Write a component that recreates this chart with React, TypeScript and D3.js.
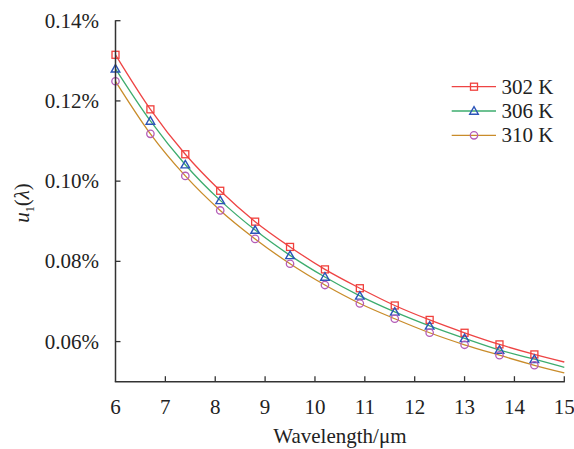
import React from "react";
import * as d3 from "d3";

const wavelengths = [6, 6.7, 7.4, 8.1, 8.8, 9.5, 10.2, 10.9, 11.6, 12.3, 13.0, 13.7, 14.4];
const lineEndX = 15;
const seriesNames = ["302 K", "306 K", "310 K"];
const values302 = [0.1315, 0.1179, 0.1067, 0.0976, 0.0899, 0.0836, 0.0780, 0.0733, 0.0690, 0.0654, 0.0622, 0.0593, 0.0568];
const values306 = [0.1280, 0.1150, 0.1041, 0.0952, 0.0878, 0.0815, 0.0761, 0.0714, 0.0674, 0.0639, 0.0608, 0.0579, 0.0556];
const values310 = [0.1249, 0.1118, 0.1013, 0.0927, 0.0856, 0.0794, 0.0741, 0.0695, 0.0657, 0.0622, 0.0592, 0.0566, 0.0541];
const lineEndValues = [0.0549, 0.0536, 0.0522];
const xTicks = [6, 7, 8, 9, 10, 11, 12, 13, 14, 15];
const yTicks = [0.06, 0.08, 0.10, 0.12, 0.14];

const lineColors = ["#ee4444", "#3dac6e", "#c98c2a"];
const markerColors = ["#f0403c", "#2b54b8", "#b45cb8"];

const W = 574, H = 449;
const left = 115.5, right = 564.3, top = 20.7, bottom = 381.7;
const FONT = "'Times New Roman', 'Liberation Serif', serif";
const FS = 21;

function Marker({ kind, x, y, color }: { kind: number; x: number; y: number; color: string }) {
  if (kind === 0) {
    return <rect x={x - 3.5} y={y - 3.5} width={7} height={7} fill="none" stroke={color} strokeWidth={1.3} />;
  }
  if (kind === 1) {
    const s = 4.3;
    const p = `${x},${y - s} ${x + s},${y + s * 0.75} ${x - s},${y + s * 0.75}`;
    return <polygon points={p} fill="none" stroke={color} strokeWidth={1.4} />;
  }
  return <circle cx={x} cy={y} r={3.7} fill="none" stroke={color} strokeWidth={1.3} />;
}

export default function App() {
  const x = d3.scaleLinear().domain([6, 15]).range([left, right]);
  const y = d3.scaleLinear().domain([0.05, 0.14]).range([bottom, top]);
  const all = [values302, values306, values310];
  const line = d3
    .line<[number, number]>()
    .x((d) => x(d[0]))
    .y((d) => y(d[1]))
    .curve(d3.curveMonotoneX);

  const legendY = [86.7, 111, 135.3];

  return (
    <svg width={W} height={H} style={{ position: "absolute", left: 0, top: 0, background: "#fff", fontFamily: FONT }}>
      {all.map((vals, i) => {
        const pts: [number, number][] = wavelengths.map((w, j) => [w, vals[j]]);
        pts.push([lineEndX, lineEndValues[i]]);
        return <path key={i} d={line(pts) || ""} fill="none" stroke={lineColors[i]} strokeWidth={1.3} />;
      })}
      {all.map((vals, i) =>
        wavelengths.map((w, j) => (
          <Marker key={`${i}-${j}`} kind={i} x={x(w)} y={y(vals[j])} color={markerColors[i]} />
        ))
      )}
      <line x1={left} x2={left} y1={top - 0.5} y2={bottom} stroke="#333" strokeWidth={1.5} />
      <line x1={left - 0.7} x2={right + 0.5} y1={bottom} y2={bottom} stroke="#333" strokeWidth={1.5} />
      {yTicks.map((t) => (
        <g key={t}>
          <line x1={left} x2={left + 5} y1={y(t)} y2={y(t)} stroke="#333" strokeWidth={1.3} />
          <text x={99} y={y(t)} dy="0.33em" textAnchor="end" fontSize={FS} fill="#222">
            {d3.format(".2f")(t)}%
          </text>
        </g>
      ))}
      {xTicks.map((t) => (
        <g key={t}>
          {t !== 6 && <line x1={x(t)} x2={x(t)} y1={bottom} y2={bottom - 5.5} stroke="#333" strokeWidth={1.3} />}
          <text x={x(t)} y={413.5} textAnchor="middle" fontSize={FS} fill="#222">
            {t}
          </text>
        </g>
      ))}
      <text x={(left + right) / 2} y={443} textAnchor="middle" fontSize={FS} fill="#222">
        Wavelength/μm
      </text>
      <text transform={`translate(29,203) rotate(-90)`} textAnchor="middle" fontSize={FS} fill="#222">
        <tspan fontStyle="italic">u</tspan>
        <tspan fontSize={12} dy={5}>1</tspan>
        <tspan dy={-5}>(</tspan>
        <tspan fontStyle="italic">λ</tspan>
        <tspan>)</tspan>
      </text>
      {seriesNames.map((n, i) => (
        <g key={n}>
          <line x1={451.7} x2={496} y1={legendY[i]} y2={legendY[i]} stroke={lineColors[i]} strokeWidth={1.3} />
          <Marker kind={i} x={474} y={legendY[i]} color={markerColors[i]} />
          <text x={501.5} y={legendY[i]} dy="0.33em" fontSize={FS} fill="#222">
            {n}
          </text>
        </g>
      ))}
    </svg>
  );
}
